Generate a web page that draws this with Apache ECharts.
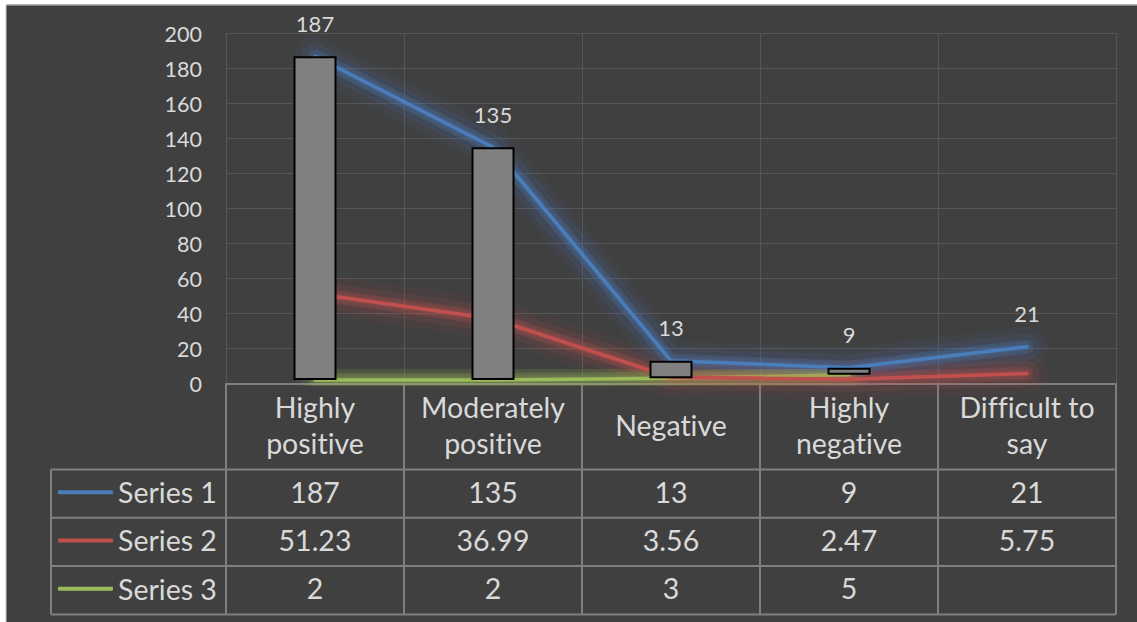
<!DOCTYPE html>
<html>
<head>
<meta charset="utf-8">
<script src="https://cdn.jsdelivr.net/npm/echarts@6/dist/echarts.min.js"></script>
<style>
  html, body { margin: 0; padding: 0; background: #ffffff; }
  #chart { width: 1137px; height: 622px; }
  #chart text { font-variant-ligatures: none; font-feature-settings: "liga" 0, "clig" 0; }
</style>
</head>
<body>
<div id="chart"></div>
<script>
// Survey responses by category, with a data table under the plot
const categories = ['Highly\npositive', 'Moderately\npositive', 'Negative', 'Highly\nnegative', 'Difficult to\nsay'];
const seriesNames = ['Series 1', 'Series 2', 'Series 3'];
const series1 = [187, 135, 13, 9, 21];
const series2 = [51.23, 36.99, 3.56, 2.47, 5.75];
const series3 = [2, 2, 3, 5, null];
const yMin = 0, yMax = 200, yStep = 20;

const seriesValues = [series1, series2, series3];
const colors = ['#4a7ebb', '#c0504d', '#9bbb59'];
const glowRgb = ['74,126,200', '200,80,77', '155,187,89'];

// Up/down bars span between the first and last series
const barBase = series1.map((v, i) => (v == null || series3[i] == null) ? null : Math.min(v, series3[i]));
const barSpan = series1.map((v, i) => (v == null || series3[i] == null) ? null : Math.abs(v - series3[i]));

const textColor = '#d9d9d9';
const font = 'Lato, "Open Sans", sans-serif';
const tableFont = 28.5;
const headerH = 86, rowH = 48.3;
const tableLine = '#7f7f7f';
const textLift = 2; // svg text sits slightly low, nudge it up

const chart = echarts.init(document.getElementById('chart'), null, { renderer: 'svg' });

// soft halo under each line, built from a few wide translucent strokes
const haloLayers = [
  { width: 40, alpha: 0.06 },
  { width: 26, alpha: 0.09 },
  { width: 14, alpha: 0.14 }
];
const glowSeries = [];
seriesNames.forEach((name, k) => {
  haloLayers.forEach((h, j) => {
    glowSeries.push({
      name: name + ' halo ' + j,
      type: 'line',
      data: seriesValues[k],
      symbol: 'none',
      silent: true,
      z: 1,
      lineStyle: {
        color: 'rgba(' + glowRgb[k] + ',' + h.alpha + ')', width: h.width,
        cap: 'round', join: 'round',
        shadowBlur: 10, shadowColor: 'rgba(' + glowRgb[k] + ',' + h.alpha + ')'
      },
      label: { show: false }
    });
  });
});

const lineSeries = seriesNames.map((name, k) => ({
  name: name,
  type: 'line',
  data: seriesValues[k],
  symbol: 'circle',
  symbolSize: 0,
  showSymbol: true,
  z: 2 + (2 - k) * 0.1,
  lineStyle: {
    color: colors[k], width: 3.5, cap: 'round', join: 'round',
    shadowBlur: 6, shadowColor: 'rgba(' + glowRgb[k] + ',0.8)'
  },
  itemStyle: { color: colors[k] },
  label: k === 0 ? {
    show: true, position: 'top', distance: 22,
    color: textColor, fontSize: 22, fontFamily: font
  } : { show: false }
}));

const option = {
  backgroundColor: '#404040',
  animation: false,
  textStyle: { fontFamily: font },
  grid: { left: 226, right: 21, top: 33.5, bottom: 238.5, containLabel: false },
  legend: {
    data: seriesNames,
    orient: 'vertical',
    left: 58, top: 468,
    padding: 0, itemGap: 0,
    itemWidth: 55, itemHeight: 4,
    icon: 'roundRect',
    selectedMode: false,
    textStyle: { color: textColor, fontSize: tableFont, fontFamily: font, lineHeight: rowH }
  },
  xAxis: {
    type: 'category',
    data: categories,
    boundaryGap: true,
    axisLine: { show: true, lineStyle: { color: tableLine, width: 2 } },
    axisTick: { show: true, inside: false, length: headerH + 3 * rowH, lineStyle: { color: tableLine, width: 2 } },
    axisLabel: {
      color: textColor, fontSize: tableFont, fontFamily: font,
      lineHeight: 36, margin: headerH / 2 - textLift, verticalAlign: 'middle', interval: 0
    },
    splitLine: { show: true, lineStyle: { color: '#565656', width: 1 } }
  },
  yAxis: {
    type: 'value',
    min: yMin, max: yMax, interval: yStep,
    axisLine: { show: false },
    axisTick: { show: false },
    axisLabel: { color: textColor, fontSize: 21.5, fontFamily: font, margin: 24 },
    splitLine: { show: true, lineStyle: { color: '#565656', width: 1 } }
  },
  series: [
    ...glowSeries,
    ...lineSeries,
    {
      name: 'base', type: 'bar', stack: 'updown', data: barBase,
      barWidth: 43, silent: true, z: 5,
      itemStyle: { color: 'rgba(0,0,0,0)' }
    },
    {
      name: 'updown', type: 'bar', stack: 'updown', data: barSpan,
      barWidth: 43, silent: true, z: 5,
      itemStyle: { color: '#808080', borderColor: '#000000', borderWidth: 2 }
    }
  ]
};

chart.setOption(option);

// Data table rows and page frame, placed from the axes' own pixel positions
function buildTable() {
  const cx = categories.map((c, i) => chart.convertToPixel({ xAxisIndex: 0 }, i));
  const band = cx[1] - cx[0];
  const right = cx[cx.length - 1] + band / 2;
  const y0 = chart.convertToPixel({ yAxisIndex: 0 }, yMin);
  const legendLeft = 51;
  const elements = [];

  // outer page margin
  elements.push({ type: 'rect', shape: { x: 0, y: 0, width: 6, height: 622 }, style: { fill: '#ffffff' }, z: 0 });
  elements.push({ type: 'rect', shape: { x: 0, y: 0, width: 1137, height: 4.5 }, style: { fill: '#ffffff' }, z: 0 });
  elements.push({ type: 'polyline', shape: { points: [[6, 622], [6, 5], [1137, 5]] }, style: { stroke: '#c8c8c8', lineWidth: 1, fill: null }, z: 0 });

  const top = y0 + headerH;
  for (let r = 0; r <= seriesNames.length; r++) {
    const y = top + r * rowH;
    elements.push({ type: 'line', shape: { x1: legendLeft, y1: y, x2: right, y2: y }, style: { stroke: tableLine, lineWidth: 2 }, z: 1 });
  }
  elements.push({ type: 'line', shape: { x1: legendLeft, y1: top, x2: legendLeft, y2: top + seriesNames.length * rowH }, style: { stroke: tableLine, lineWidth: 2 }, z: 1 });

  seriesValues.forEach((vals, r) => {
    const yc = top + (r + 0.5) * rowH - textLift;
    vals.forEach((v, i) => {
      if (v == null) return;
      elements.push({
        type: 'text', x: cx[i], y: yc, z: 2,
        style: { text: String(v), fill: textColor, fontSize: tableFont, fontFamily: font, align: 'center', verticalAlign: 'middle' }
      });
    });
  });

  chart.setOption({ graphic: { elements: elements } });
}
buildTable();
</script>
</body>
</html>
